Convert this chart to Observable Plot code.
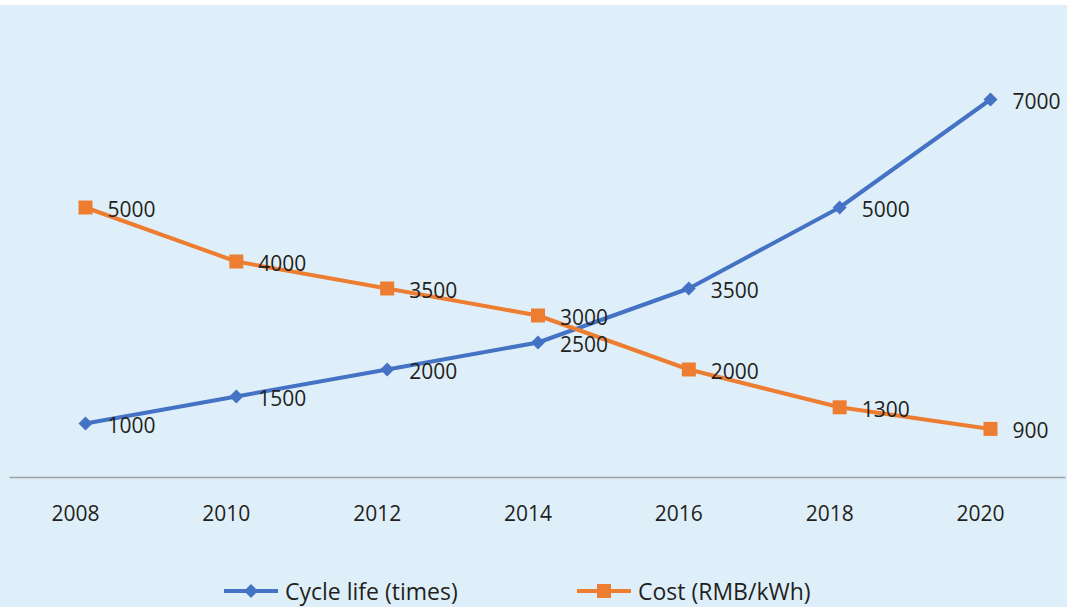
<!DOCTYPE html>
<html>
<head>
<meta charset="utf-8">
<script src="https://cdn.jsdelivr.net/npm/d3@7"></script>
<script src="https://cdn.jsdelivr.net/npm/@observablehq/plot@0.6"></script>
<style>
  html, body { margin: 0; padding: 0; background: #dfeff9; width: 1067px; height: 607px; overflow: hidden; }
  #topstrip { height: 5px; background: #ffffff; }
  #chart svg { display: block; }
  #legend { position: relative; height: 57px; font-family: "Open Sans", sans-serif; font-size: 23px; color: #231f20; }
  .item { position: absolute; top: 26px; height: 30px; display: flex; align-items: center; }
  .item svg { display: block; margin-right: 7px; }
</style>
</head>
<body>
<div id="topstrip"></div>
<div id="chart"></div>
<div id="legend"></div>
<script>
const years = [2008, 2010, 2012, 2014, 2016, 2018, 2020];
const cycleLife = [1000, 1500, 2000, 2500, 3500, 5000, 7000];
const cost = [5000, 4000, 3500, 3000, 2000, 1300, 900];
const seriesNames = ["Cycle life (times)", "Cost (RMB/kWh)"];
const seriesColors = ["#4472c4", "#ed7d31"];
const seriesSymbols = ["diamond2", "square"];

const blueRows = years.map((yr, i) => ({year: yr, value: cycleLife[i], series: seriesNames[0]}));
const orangeRows = years.map((yr, i) => ({year: yr, value: cost[i], series: seriesNames[1]}));
const textColor = "#231f20";

const chart = Plot.plot({
  width: 1067,
  height: 545,
  marginLeft: 85,
  marginRight: 77,
  marginTop: 40,
  marginBottom: 73,
  x: {type: "linear", domain: [2008, 2020], axis: null},
  y: {domain: [0, 8000], axis: null},
  style: {background: "transparent", fontFamily: "'Open Sans', sans-serif", color: textColor, overflow: "visible"},
  marks: [
    Plot.ruleY([{y: 0, x1: years[0] - 1, x2: years[years.length - 1] + 1}], {y: "y", x1: "x1", x2: "x2", stroke: "#a0a0a0", strokeWidth: 1.3}),
    Plot.text(years, {x: d => d, y: 0, dy: 37, dx: -10, text: d => String(d), fontSize: 21, fill: textColor}),
    Plot.line(blueRows, {x: "year", y: "value", stroke: seriesColors[0], strokeWidth: 4}),
    Plot.dot(blueRows, {x: "year", y: "value", symbol: seriesSymbols[0], r: 6.3, fill: seriesColors[0], stroke: "none"}),
    Plot.line(orangeRows, {x: "year", y: "value", stroke: seriesColors[1], strokeWidth: 4}),
    Plot.dot(orangeRows, {x: "year", y: "value", symbol: seriesSymbols[1], r: 7.9, fill: seriesColors[1], stroke: "none"}),
    Plot.text(blueRows, {x: "year", y: "value", text: d => String(d.value), dx: 22, dy: 2.5, textAnchor: "start", fontSize: 21, fill: textColor}),
    Plot.text(orangeRows, {x: "year", y: "value", text: d => String(d.value), dx: 22, dy: 2.5, textAnchor: "start", fontSize: 21, fill: textColor})
  ]
});
document.getElementById("chart").appendChild(chart);

// Legend
const legend = document.getElementById("legend");
const lefts = [224, 577];
seriesNames.forEach((name, i) => {
  const item = document.createElement("div");
  item.className = "item";
  item.style.left = lefts[i] + "px";
  const sw = d3.create("svg").attr("width", 54).attr("height", 16);
  sw.append("line").attr("x1", 0).attr("x2", 54).attr("y1", 8).attr("y2", 8)
    .attr("stroke", seriesColors[i]).attr("stroke-width", 4);
  const sym = i === 0 ? d3.symbolDiamond2 : d3.symbolSquare;
  const size = i === 0 ? Math.PI * 6.3 * 6.3 : Math.PI * 7.9 * 7.9;
  sw.append("path").attr("d", d3.symbol(sym, size)()).attr("transform", "translate(27,8)")
    .attr("fill", seriesColors[i]);
  item.appendChild(sw.node());
  const label = document.createElement("span");
  label.textContent = name;
  item.appendChild(label);
  legend.appendChild(item);
});
</script>
</body>
</html>
